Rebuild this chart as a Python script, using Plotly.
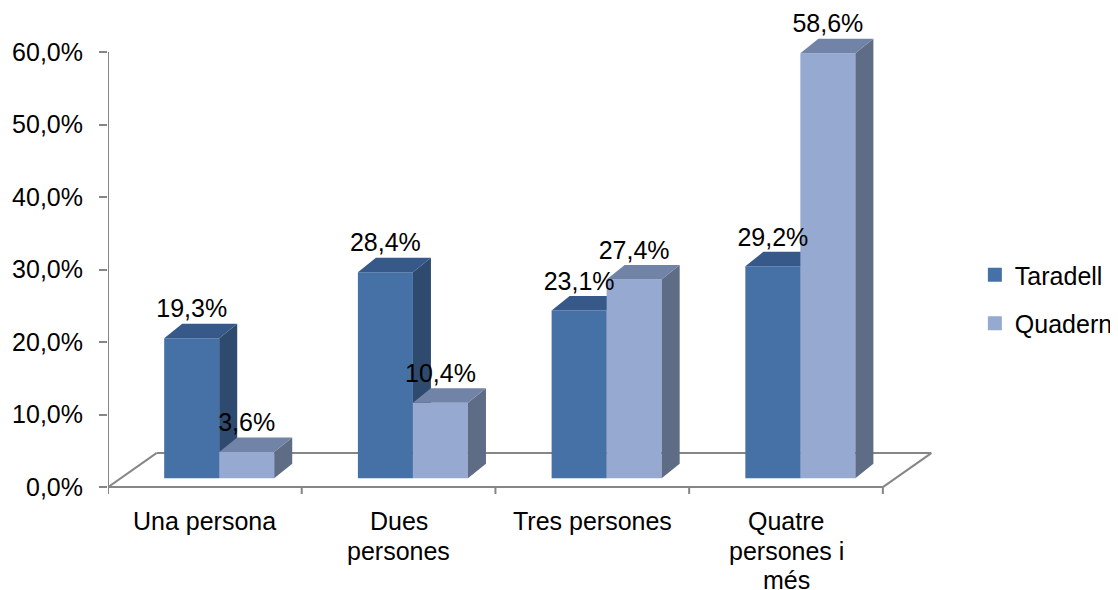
import plotly.graph_objects as go

# ---------------- data ----------------
categories = ["Una persona", "Dues<br>persones", "Tres persones", "Quatre<br>persones i<br>més"]
series_names = ["Taradell", "Quadern"]
taradell = [19.3, 28.4, 23.1, 29.2]
quadern = [3.6, 10.4, 27.4, 58.6]
y_tick_values = [0, 10, 20, 30, 40, 50, 60]
y_tick_labels = ["0,0%", "10,0%", "20,0%", "30,0%", "40,0%", "50,0%", "60,0%"]

# ---------------- styling / pseudo-3D geometry ----------------
FONT = "Arial, 'Liberation Sans', sans-serif"
FS = 25
GRAY = "#868686"
BASE = 1.24      # bars stand a little behind the front edge of the floor
W = 0.284        # bar width in category units
OFFSETS = [-0.21, 0.074]
DX, DY = 0.093, 2.0          # bar depth (x units, y units)
FDX, FDY = 0.25, 4.69        # floor depth
COLORS = [
    dict(front="#4571A6", side="#2E4A6E", top="#36598A"),
    dict(front="#95A9D1", side="#5E6C86", top="#7184A7"),
]
LABEL_FIRST_SHIFT = -34      # px below the front floor edge
LABEL_LINE_GAP = 29.5        # px between label lines

n = len(categories)
fig = go.Figure()


def polys(values, off):
    fx, fy, sx, sy, tx, ty = [], [], [], [], [], []
    for i, v in enumerate(values):
        xl = i + off
        xr = xl + W
        top = BASE + v
        fx += [xl, xr, xr, xl, xl, None]
        fy += [BASE, BASE, top, top, BASE, None]
        sx += [xr, xr + DX, xr + DX, xr, xr, None]
        sy += [BASE, BASE + DY, top + DY, top, BASE, None]
        tx += [xl, xr, xr + DX, xl + DX, xl, None]
        ty += [top, top, top + DY, top + DY, top, None]
    return (fx, fy), (sx, sy), (tx, ty)


for values, off, col in zip([taradell, quadern], OFFSETS, COLORS):
    front, side, top = polys(values, off)
    for (xs, ys), c in [(front, col["front"]), (side, col["side"]), (top, col["top"])]:
        fig.add_trace(go.Scatter(x=xs, y=ys, mode="lines", fill="toself",
                                 fillcolor=c, line=dict(width=0, color=c),
                                 hoverinfo="skip", showlegend=False))

# data labels
for values, off in zip([taradell, quadern], OFFSETS):
    fig.add_trace(go.Scatter(
        x=[i + off + W / 2 for i in range(n)],
        y=[BASE + v + 3.72 for v in values],
        mode="text",
        text=[f"{v:.1f}".replace(".", ",") + "%" for v in values],
        textposition="middle center",
        textfont=dict(family=FONT, size=FS, color="#000000"),
        cliponaxis=False, hoverinfo="skip", showlegend=False))

# legend entries
for k, (name, col) in enumerate(zip(series_names, COLORS)):
    fig.add_trace(go.Scatter(x=[None], y=[None], mode="markers", name=name,
                             legendgroup=name,
                             marker=dict(symbol="square", size=14, color=col["front"])))

# floor + axis lines
x0, x1 = -0.5, n - 0.5
shapes = [
    dict(type="line", x0=x0, y0=0, x1=x1, y1=0),
    dict(type="line", x0=x0 + FDX, y0=FDY, x1=x1 + FDX, y1=FDY),
    dict(type="line", x0=x0, y0=0, x1=x0 + FDX, y1=FDY),
    dict(type="line", x0=x1, y0=0, x1=x1 + FDX, y1=FDY),
    dict(type="line", x0=x0, y0=0, x1=x0, y1=60),
]
for k in range(n + 1):
    shapes.append(dict(type="line", x0=x0 + k, y0=0, x1=x0 + k, y1=-0.95))
for s in shapes:
    s.update(xref="x", yref="y", layer="below", line=dict(color=GRAY, width=2))

# category labels (one annotation per line, for tight line spacing)
annotations = []
for i, cat in enumerate(categories):
    for k, line in enumerate(cat.split("<br>")):
        annotations.append(dict(
            x=i, y=0, xref="x", yref="y", text=line, showarrow=False,
            xanchor="center", yanchor="middle",
            yshift=LABEL_FIRST_SHIFT - k * LABEL_LINE_GAP,
            font=dict(family=FONT, size=FS, color="#000000")))

PAGE_OFF = 8          # page body margin
FIG_W, FIG_H = 1118 - PAGE_OFF, 590 - PAGE_OFF
PX_PER_X = 193.75
PX_PER_Y = 7.25
xr = [-0.5, 3.8]
yr = [-1.5, 64]
L, T = 108 - PAGE_OFF, 23 - PAGE_OFF
plot_w = (xr[1] - xr[0]) * PX_PER_X
plot_h = (yr[1] - yr[0]) * PX_PER_Y

fig.update_layout(
    width=FIG_W, height=FIG_H,
    margin=dict(l=L, t=T, r=FIG_W - L - plot_w, b=FIG_H - T - plot_h, autoexpand=False),
    paper_bgcolor="white", plot_bgcolor="white",
    font=dict(family=FONT, size=FS, color="#000000"),
    shapes=shapes,
    annotations=annotations,
    showlegend=True,
    legend=dict(x=(975 - PAGE_OFF - L) / plot_w, xanchor="left",
                y=(T + plot_h - (299 - PAGE_OFF)) / plot_h,
                yanchor="middle", font=dict(family=FONT, size=FS),
                traceorder="grouped", tracegroupgap=13, bgcolor="rgba(0,0,0,0)"),
    xaxis=dict(range=xr, showgrid=False, zeroline=False, showline=False,
               showticklabels=False, ticks=""),
    yaxis=dict(range=yr, showgrid=False, zeroline=False, showline=False,
               tickvals=y_tick_values, ticktext=y_tick_labels, ticks="outside",
               ticklen=8, tickwidth=2, tickcolor=GRAY, ticklabelstandoff=11,
               tickfont=dict(family=FONT, size=FS)),
)

fig.write_html("out.html")
